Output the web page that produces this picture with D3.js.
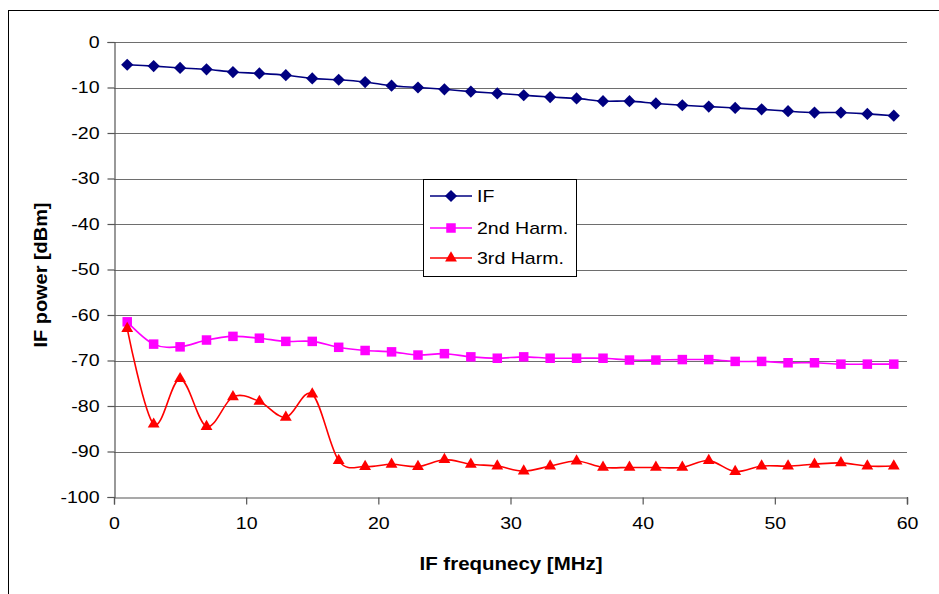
<!DOCTYPE html>
<html><head><meta charset="utf-8">
<script src="https://cdn.jsdelivr.net/npm/d3@7"></script>
<style>body{margin:0;background:#fff}svg{display:block}text{font-family:Arial,"Liberation Sans",sans-serif}</style>
</head><body>
<svg id="c" width="939" height="594"></svg>
<script>
const freq = [1,3,5,7,9,11,13,15,17,19,21,23,25,27,29,31,33,35,37,39,41,43,45,47,49,51,53,55,57,59];
const ifPower = [-5.0,-5.3,-5.7,-6.0,-6.6,-6.9,-7.3,-8.0,-8.3,-8.8,-9.6,-10.0,-10.4,-10.9,-11.3,-11.7,-12.1,-12.4,-13.0,-13.0,-13.5,-13.9,-14.2,-14.5,-14.8,-15.2,-15.5,-15.5,-15.8,-16.2];
const harm2 = [-61.5,-66.4,-67.0,-65.5,-64.7,-65.1,-65.8,-65.8,-67.1,-67.8,-68.1,-68.8,-68.5,-69.2,-69.5,-69.2,-69.5,-69.5,-69.5,-69.9,-69.9,-69.8,-69.8,-70.2,-70.2,-70.5,-70.5,-70.8,-70.8,-70.8];
const harm3 = [-63.0,-84.0,-74.0,-84.5,-78.0,-79.0,-82.5,-77.4,-92.0,-93.3,-92.8,-93.3,-91.8,-92.8,-93.2,-94.3,-93.2,-92.1,-93.5,-93.5,-93.5,-93.5,-92.0,-94.4,-93.2,-93.2,-92.8,-92.5,-93.2,-93.2];
const seriesNames = ["IF","2nd Harm.","3rd Harm."];
const xTicks = [0,10,20,30,40,50,60];
const yTicks = [0,-10,-20,-30,-40,-50,-60,-70,-80,-90,-100];

const svg = d3.select("#c");
const L=114, R=907, T=42, B=497;
const x = d3.scaleLinear().domain([0,60]).range([L,R]);
const y = d3.scaleLinear().domain([-100,0]).range([B,T]);
const stretch = sel => sel.each(function(){
  const w = this.getComputedTextLength();
  d3.select(this).attr("textLength", w*1.15).attr("lengthAdjust","spacingAndGlyphs");
});

// outer border
svg.append("rect").attr("x",8.5).attr("y",10.5).attr("width",960).attr("height",620)
  .attr("fill","#fff").attr("stroke","#000").attr("stroke-width",1);

// gridlines
svg.append("g").selectAll("line").data(yTicks.filter(d=>d!==-100)).join("line")
  .attr("x1",L).attr("x2",R).attr("y1",d=>Math.round(y(d))+0.5).attr("y2",d=>Math.round(y(d))+0.5)
  .attr("stroke","#6e6e6e").attr("stroke-width",1.2);

// axes
const yAxis = svg.append("g").attr("transform",`translate(${L+0.5},0)`)
  .call(d3.axisLeft(y).tickValues(yTicks).tickSize(7).tickPadding(8).tickFormat(d=>String(d)));
const xAxis = svg.append("g").attr("transform",`translate(0,${B+0.5})`)
  .call(d3.axisBottom(x).tickValues(xTicks).tickSize(7).tickPadding(12).tickFormat(d=>String(d)));
[yAxis,xAxis].forEach(a=>{
  a.select(".domain").attr("stroke","#555").attr("stroke-width",1.2);
  a.selectAll(".tick line").attr("stroke","#555").attr("stroke-width",1.2);
  a.selectAll("text").attr("font-size",17).attr("fill","#000").attr("font-family","Arial, 'Liberation Sans', sans-serif").call(stretch);
});
svg.append("line").attr("x1",R+0.5).attr("x2",R+0.5).attr("y1",B).attr("y2",B+7).attr("stroke","#555").attr("stroke-width",1.2);

// titles
svg.append("text").attr("x",511).attr("y",570).attr("text-anchor","middle")
  .attr("font-size",18).attr("font-weight","bold").attr("textLength",183).attr("lengthAdjust","spacingAndGlyphs")
  .text("IF frequnecy [MHz]");
svg.append("text").attr("transform","translate(47,275) rotate(-90)").attr("text-anchor","middle")
  .attr("font-size",19).attr("font-weight","bold").attr("textLength",145).attr("lengthAdjust","spacingAndGlyphs")
  .text("IF power [dBm]");

const colors = ["#000080","#FF00FF","#FF0000"];
const data = [ifPower,harm2,harm3];
const line = d3.line().x(d=>x(d[0])).y(d=>y(d[1])).curve(d3.curveCardinal.tension(0));
const sym = [d3.symbolDiamond2, d3.symbolSquare2, d3.symbolTriangle2];
const symSize = [95, 115, 100];

data.forEach((vals,i)=>{
  const pts = freq.map((f,j)=>[f,vals[j]]);
  svg.append("path").datum(pts).attr("d",line).attr("fill","none").attr("stroke",colors[i]).attr("stroke-width",1.6);
});
data.forEach((vals,i)=>{
  const pts = freq.map((f,j)=>[f,vals[j]]);
  svg.append("g").selectAll("path").data(pts).join("path")
    .attr("transform",d=>`translate(${x(d[0])},${y(d[1])})`)
    .attr("d",d3.symbol().type(sym[i]).size(symSize[i]))
    .attr("fill",colors[i]).attr("stroke","none");
});

// legend
const lg = svg.append("g");
lg.append("rect").attr("x",423.5).attr("y",179.5).attr("width",153).attr("height",97)
  .attr("fill","#fff").attr("stroke","#000").attr("stroke-width",1);
const ly = [196,228,258];
seriesNames.forEach((n,i)=>{
  lg.append("line").attr("x1",430).attr("x2",472).attr("y1",ly[i]).attr("y2",ly[i]).attr("stroke",colors[i]).attr("stroke-width",1.6);
  lg.append("path").attr("transform",`translate(451,${ly[i]})`).attr("d",d3.symbol().type(sym[i]).size(symSize[i])).attr("fill",colors[i]);
  lg.append("text").attr("x",477).attr("y",ly[i]+6).attr("font-size",17).text(n).call(stretch);
});
</script>
</body></html>
